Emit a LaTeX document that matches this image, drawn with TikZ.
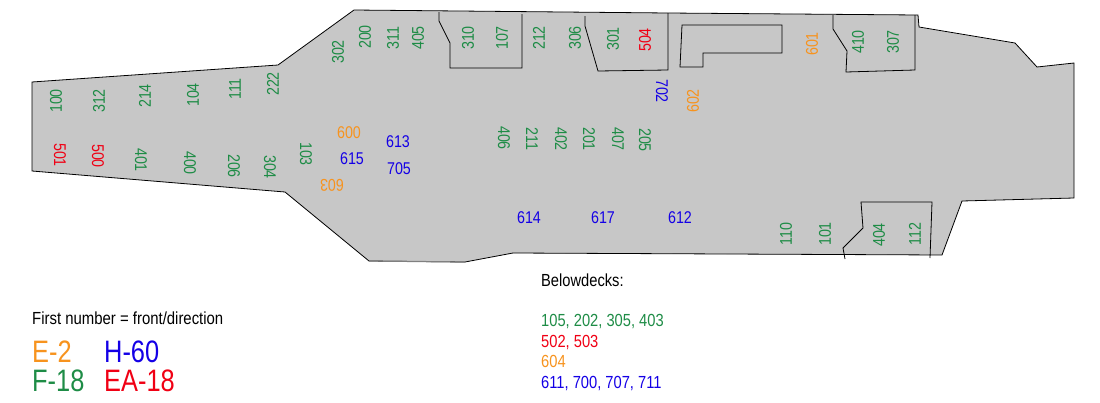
\documentclass[tikz,border=0pt]{standalone}
\usepackage{fontspec}
\setmainfont{Liberation Sans}
\definecolor{deckgray}{RGB}{199,199,199}
\definecolor{fgreen}{RGB}{30,140,70}
\definecolor{eorange}{RGB}{247,147,30}
\definecolor{hblue}{RGB}{20,0,230}
\definecolor{ered}{RGB}{240,0,20}
\tikzset{
  numbase/.style={xscale=.84,font=\fontsize{17}{19}\selectfont,inner sep=0pt},
  numup/.style={rotate=90,numbase},
  numdown/.style={rotate=-90,numbase},
  numflat/.style={numbase},
  numflip/.style={rotate=180,numbase},
  legendbig/.style={anchor=west,xscale=.82,font=\fontsize{31}{33}\selectfont,inner sep=0pt},
  legendtext/.style={anchor=west,xscale=.84,font=\fontsize{17.5}{19}\selectfont,inner sep=0pt},
  deckline/.style={line width=.8pt}
}
\begin{document}
\begin{tikzpicture}[x=1pt,y=-1pt]
  \useasboundingbox (0,0) rectangle (1100,402);

  % deck outline
  \draw[deckline,fill=deckgray] (32,82) -- (278,65) -- (354,10) -- (668,13) -- (918,15)
    -- (919,27) -- (1015,43) -- (1037,67) -- (1074,63) -- (1074,198) -- (962,201)
    -- (942,255) -- (513,253) -- (465,262) -- (369,261) -- (285,192) -- (32,171) -- cycle;
  \draw[gray,line width=1.2pt] (369,261) -- (465,262);

  % parking spots
  \draw[deckline] (439,12) -- (439,21) -- (450,43) -- (450,68) -- (522,68) -- (522,14);
  \draw[deckline] (585,16) -- (585,26) -- (598,71) -- (668,70) -- (668,13);
  \draw[deckline] (682,25) -- (782,25) -- (782,53) -- (703,53) -- (703,67) -- (680,67) -- cycle;
  \draw[deckline] (833,15) -- (833,29) -- (847,51) -- (846,72) -- (915,70) -- (915,15);
  \draw[deckline] (845,259) -- (843,248) -- (863,228) -- (861,202) -- (932,202) -- (930,258);

  \begin{scope}[every node/.style={text=fgreen}]
    \node[numup] (n100) at (56,101) {100};
    \node[numup] (n312) at (99,101) {312};
    \node[numup] (n214) at (145,96) {214};
    \node[numup] (n104) at (193,95) {104};
    \node[numup] (n111) at (235,89) {111};
    \node[numup] (n222) at (273,84) {222};
    \node[numup] (n302) at (338,52) {302};
    \node[numup] (n200) at (365,37) {200};
    \node[numup] (n311) at (393,38) {311};
    \node[numup] (n405) at (418,38) {405};
    \node[numup] (n310) at (468,38) {310};
    \node[numup] (n107) at (502,38) {107};
    \node[numup] (n212) at (539,38) {212};
    \node[numup] (n306) at (575,38) {306};
    \node[numup] (n301) at (613,39) {301};
    \node[numup] (n410) at (858,42) {410};
    \node[numup] (n307) at (893,42) {307};
    \node[numup] (n110) at (786,234) {110};
    \node[numup] (n101) at (825,234) {101};
    \node[numup] (n404) at (879,235) {404};
    \node[numup] (n112) at (915,234) {112};
    \node[numdown] (n401) at (141,160) {401};
    \node[numdown] (n400) at (190,163) {400};
    \node[numdown] (n206) at (234,166) {206};
    \node[numdown] (n304) at (270,167) {304};
    \node[numdown] (n103) at (306,154) {103};
    \node[numdown] (n406) at (504,138) {406};
    \node[numdown] (n211) at (532,139) {211};
    \node[numdown] (n402) at (561,139) {402};
    \node[numdown] (n201) at (589,139) {201};
    \node[numdown] (n407) at (618,139) {407};
    \node[numdown] (n205) at (645,140) {205};
  \end{scope}

  \begin{scope}[every node/.style={text=ered}]
    \node[numup] (n504) at (645,40) {504};
    \node[numdown] (n501) at (60,155) {501};
    \node[numdown] (n500) at (98,156) {500};
  \end{scope}

  \begin{scope}[every node/.style={text=eorange}]
    \node[numflat] (n600) at (349,133) {600};
    \node[numflip] (n603) at (332,185) {603};
    \node[numup] (n601) at (812,44) {601};
    \node[numup] (n602) at (693,101) {602};
  \end{scope}

  \begin{scope}[every node/.style={text=hblue}]
    \node[numflat] (n613) at (398,142) {613};
    \node[numflat] (n615) at (352,159) {615};
    \node[numflat] (n705) at (399,169) {705};
    \node[numflat] (n614) at (529,218) {614};
    \node[numflat] (n617) at (603,218) {617};
    \node[numflat] (n612) at (680,218) {612};
    \node[numdown] (n702) at (662,91) {702};
  \end{scope}

  % legend
  \node[legendtext,xscale=1.015] (first) at (32,318) {First number = front/direction};
  \node[legendbig,text=eorange] (e2) at (32,352) {E-2};
  \node[legendbig,text=hblue] (h60) at (104,352) {H-60};
  \node[legendbig,text=fgreen] (f18) at (32,381) {F-18};
  \node[legendbig,text=ered] (ea18) at (104,381) {EA-18};

  % below decks
  \node[legendtext] (below) at (541,280) {Belowdecks:};
  \node[legendtext,text=fgreen] (belowf) at (541,321.5) {105, 202, 305, 403};
  \node[legendtext,text=ered] (belowe) at (541,342.5) {502, 503};
  \node[legendtext,text=eorange] (belowo) at (541,361) {604};
  \node[legendtext,text=hblue] (belowh) at (541,383.5) {611, 700, 707, 711};
\end{tikzpicture}
\end{document}
